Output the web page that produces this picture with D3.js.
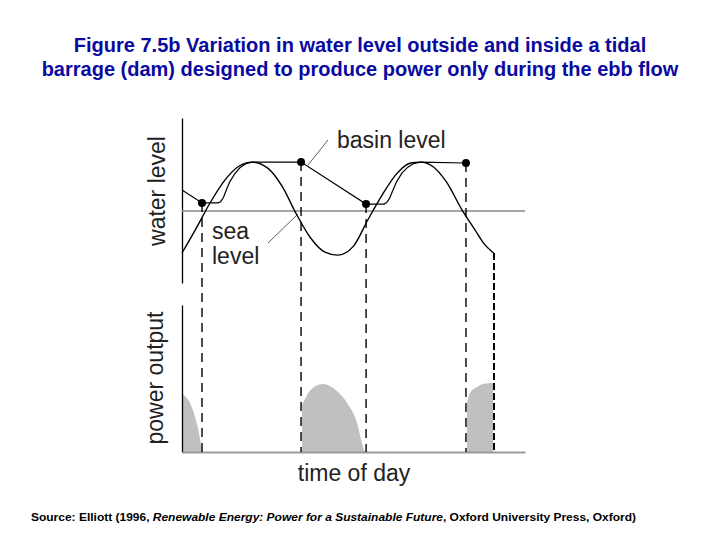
<!DOCTYPE html>
<html>
<head>
<meta charset="utf-8">
<script src="https://cdn.jsdelivr.net/npm/d3@7"></script>
<style>
  body { margin: 0; background: #fff; }
  svg { font-family: Arial, "Liberation Sans", sans-serif; }
</style>
</head>
<body>
<svg id="chart" width="720" height="540"></svg>
<script>
// sea level (tide), hours vs level
let seaTime  = [0, 1, 2, 3, 4, 4.9, 6, 7, 8, 9, 10, 10.9, 12, 13, 14, 15, 16, 16.7, 17.5, 18.5, 19.6, 20.5, 21.1, 21.8]
let seaLevel = [-1.4, -0.57, 0.3, 1.03, 1.5, 1.63, 1.43, 0.83, -0.1, -0.9, -1.37, -1.47, -1.17, -0.3, 0.53, 1.23, 1.6, 1.63, 1.5, 0.97, 0.03, -0.63, -1.07, -1.4]

// basin level behind the barrage
let basinTime  = [0, 1.4, 2.52, 2.7, 2.9, 3.1, 3.35, 3.7, 4.05, 4.48, 4.9, 8.33, 12.88, 14.14, 14.32, 14.52, 14.75, 15.02, 15.4, 15.8, 16.2, 16.66, 19.87]
let basinLevel = [0.7, 0.27, 0.27, 0.31, 0.45, 0.7, 0.98, 1.25, 1.44, 1.58, 1.63, 1.63, 0.23, 0.23, 0.28, 0.42, 0.68, 0.98, 1.27, 1.46, 1.58, 1.63, 1.6]

// sluice / turbine switching points (dots + dashed lines)
let eventTime  = [1.4, 8.33, 12.88, 19.87, 21.83]
let eventLevel = [0.27, 1.63, 0.23, 1.6, -1.4]

// power output pulses during ebb
let powerTime1 = [0, 0.56, 0.91, 1.19, 1.4]
let powerOut1  = [3.95, 3.33, 2.38, 1.29, 0]
let powerTime2 = [8.4, 8.75, 9.24, 9.87, 10.57, 11.55, 12.25, 12.67, 12.81]
let powerOut2  = [3.2, 3.88, 4.42, 4.63, 4.35, 3.33, 1.97, 0.34, 0]
let powerTime3 = [19.94, 20.15, 20.64, 21.06, 21.76]
let powerOut3  = [3.33, 4.01, 4.42, 4.63, 4.69]

let titleLines = [
  "Figure 7.5b Variation in water level outside and inside a tidal",
  "barrage (dam) designed to produce power only during the ebb flow"
]

const svg = d3.select("#chart")

let x = d3.scaleLinear().domain([0, 24]).range([182, 525])
let yWater = d3.scaleLinear().domain([-2.4, 3.1]).range([283, 118])
let yPower = d3.scaleLinear().domain([0, 10]).range([452, 305])

// title
svg.selectAll("text.title")
  .data(titleLines)
  .join("text")
  .attr("class", "title")
  .attr("x", 360)
  .attr("y", (d, i) => 52 + i * 24)
  .attr("text-anchor", "middle")
  .style("font-size", "20px")
  .style("font-weight", "bold")
  .style("fill", "#0a0aa0")
  .text(d => d)

// power fills
let area = d3.area()
  .x(d => x(d[0]))
  .y0(yPower(0))
  .y1(d => yPower(d[1]))
  .curve(d3.curveMonotoneX)

let pulses = [
  d3.zip(powerTime1, powerOut1),
  d3.zip(powerTime2, powerOut2),
  d3.zip(powerTime3, powerOut3)
]
svg.append("g")
  .selectAll("path")
  .data(pulses)
  .join("path")
  .attr("d", area)
  .style("fill", "#c0c0c0")

// axes, no ticks
let yAxisTop = svg.append("g")
  .attr("transform", `translate(${x(0)},0)`)
  .call(d3.axisLeft(yWater).tickValues([]).tickSizeOuter(0))
yAxisTop.select(".domain").style("stroke", "#000").style("stroke-width", 1.3)

let yAxisBottom = svg.append("g")
  .attr("transform", `translate(${x(0)},0)`)
  .call(d3.axisLeft(yPower).tickValues([]).tickSizeOuter(0))
yAxisBottom.select(".domain").style("stroke", "#000").style("stroke-width", 1.3)

let xAxis = svg.append("g")
  .attr("transform", `translate(0,${yPower(0)})`)
  .call(d3.axisBottom(x).tickValues([]).tickSizeOuter(0))
xAxis.select(".domain").style("stroke", "#999").style("stroke-width", 2)

// mean water line
svg.append("line")
  .attr("x1", x(0)).attr("x2", x(24))
  .attr("y1", yWater(0)).attr("y2", yWater(0))
  .style("stroke", "#888").style("stroke-width", 1.3)

// dashed lines
svg.append("g")
  .selectAll("line")
  .data(d3.zip(eventTime, eventLevel))
  .join("line")
  .attr("x1", d => x(d[0])).attr("x2", d => x(d[0]))
  .attr("y1", d => yWater(d[1])).attr("y2", yPower(0))
  .style("stroke", "#000")
  .style("stroke-width", (d, i) => i == 4 ? 2 : 1.4)
  .style("stroke-dasharray", (d, i) => i == 4 ? "7,3" : "9,6")

// sea + basin curves
let seaLine = d3.line()
  .x(d => x(d[0]))
  .y(d => yWater(d[1]))
  .curve(d3.curveMonotoneX)

svg.append("path")
  .datum(d3.zip(seaTime, seaLevel))
  .attr("d", seaLine)
  .style("fill", "none").style("stroke", "#000").style("stroke-width", 1.4)

let basinLine = d3.line()
  .x(d => x(d[0]))
  .y(d => yWater(d[1]))

svg.append("path")
  .datum(d3.zip(basinTime, basinLevel))
  .attr("d", basinLine)
  .style("fill", "none").style("stroke", "#000").style("stroke-width", 1.2)

// dots
svg.append("g")
  .selectAll("circle")
  .data(d3.zip(eventTime, eventLevel).slice(0, 4))
  .join("circle")
  .attr("cx", d => x(d[0]))
  .attr("cy", d => yWater(d[1]))
  .attr("r", 4)
  .style("fill", "#000")

// labels + leaders
svg.append("line")
  .attr("x1", 328).attr("y1", 140).attr("x2", 308).attr("y2", 165)
  .style("stroke", "#333").style("stroke-width", 0.8)
svg.append("line")
  .attr("x1", 268).attr("y1", 243).attr("x2", 298).attr("y2", 214)
  .style("stroke", "#333").style("stroke-width", 0.8)

let labelStyle = sel => sel.style("font-size", "23px").style("fill", "#222")

svg.append("text").attr("x", 337).attr("y", 148).text("basin level").call(labelStyle)
svg.append("text").attr("x", 212).attr("y", 239).text("sea").call(labelStyle)
svg.append("text").attr("x", 212).attr("y", 264).text("level").call(labelStyle)

svg.append("text")
  .attr("transform", "translate(165,191) rotate(-90)")
  .attr("text-anchor", "middle")
  .text("water level").call(labelStyle)

svg.append("text")
  .attr("transform", "translate(163,378) rotate(-90)")
  .attr("text-anchor", "middle")
  .text("power output").call(labelStyle)

svg.append("text")
  .attr("x", 354).attr("y", 481)
  .attr("text-anchor", "middle")
  .text("time of day").call(labelStyle)

// source
let src = svg.append("text")
  .attr("x", 31).attr("y", 521)
  .attr("textLength", 605)
  .attr("lengthAdjust", "spacingAndGlyphs")
  .style("font-size", "11px")
  .style("font-weight", "bold")
src.append("tspan").text("Source: Elliott (1996, ")
src.append("tspan").style("font-style", "italic").text("Renewable Energy: Power for a Sustainable Future")
src.append("tspan").text(", Oxford University Press, Oxford)")
</script>
</body>
</html>
